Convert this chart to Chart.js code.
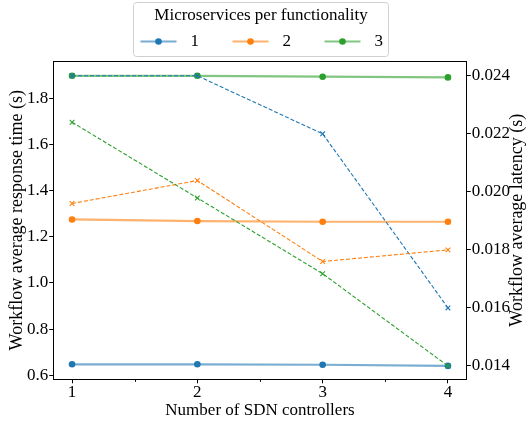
<!DOCTYPE html>
<html><head><meta charset="utf-8">
<script src="https://cdn.jsdelivr.net/npm/chart.js@4"></script>
<style>html,body{margin:0;padding:0;background:#fff;}</style>
</head><body>
<canvas id="c" width="526" height="423"></canvas>
<script>
const controllers = [1, 2, 3, 4];
const seriesNames = ['1', '2', '3'];
const responseTime1 = [0.648, 0.648, 0.646, 0.641];
const responseTime2 = [1.275, 1.268, 1.265, 1.265];
const responseTime3 = [1.897, 1.897, 1.893, 1.890];
const latency1 = [0.0240, 0.0240, 0.0220, 0.0160];
const latency2 = [0.01960, 0.02039, 0.01760, 0.01800];
const latency3 = [0.02240, 0.01979, 0.01718, 0.01400];
const leftTicks = [0.6, 0.8, 1.0, 1.2, 1.4, 1.6, 1.8];
const rightTicks = [0.014, 0.016, 0.018, 0.020, 0.022, 0.024];
const minorXTicks = [1.5, 2.5, 3.5];

const colors = ['#1f77b4', '#ff7f0e', '#2ca02c'];
const fadedColors = ['rgba(31,119,180,0.6)', 'rgba(255,127,14,0.6)', 'rgba(44,160,44,0.6)'];
const FONT = "'Liberation Serif', 'Times New Roman', serif";
const FS = 17;
const YFS = 18;

const responseSeries = [responseTime1, responseTime2, responseTime3];
const latencySeries = [latency1, latency2, latency3];
const toPts = arr => arr.map((v, i) => ({x: controllers[i], y: v}));

const datasets = [];
responseSeries.forEach((s, i) => {
  datasets.push({
    label: seriesNames[i], data: toPts(s), yAxisID: 'y', order: 5 - i,
    borderColor: fadedColors[i], borderWidth: 2.2,
    pointStyle: 'circle', pointRadius: 3.3, pointBackgroundColor: colors[i],
    pointBorderWidth: 0, pointHoverRadius: 3.3
  });
});
latencySeries.forEach((s, i) => {
  datasets.push({
    label: seriesNames[i] + ' latency', data: toPts(s), yAxisID: 'y2', order: 2 - i,
    borderColor: colors[i], borderWidth: 1.1, borderDash: [4, 2],
    pointStyle: 'crossRot', pointRadius: 3.3, pointBorderColor: colors[i],
    pointBorderWidth: 1.1, pointHoverRadius: 3.3
  });
});

const frameAndExtras = {
  id: 'frameAndExtras',
  afterDraw(chart) {
    const ctx = chart.ctx, a = chart.chartArea;
    ctx.save();
    ctx.strokeStyle = '#000'; ctx.lineWidth = 1;
    ctx.beginPath(); ctx.moveTo(a.left, a.top + 0.5); ctx.lineTo(a.right, a.top + 0.5); ctx.stroke();
    const xs = chart.scales.x;
    minorXTicks.forEach(v => {
      const px = Math.round(xs.getPixelForValue(v)) + 0.5;
      ctx.beginPath(); ctx.moveTo(px, a.bottom); ctx.lineTo(px, a.bottom + 2.5); ctx.stroke();
    });
    ctx.fillStyle = '#000'; ctx.font = YFS + 'px ' + FONT;
    ctx.textAlign = 'center'; ctx.textBaseline = 'middle';
    ctx.translate(517, (a.top + a.bottom) / 2);
    ctx.rotate(-Math.PI / 2);
    ctx.fillText('Workflow average latency (s)', 0, 0);
    ctx.restore();

    ctx.save();
    const boxW = 255, boxH = 54;
    const left = Math.round((a.left + a.right) / 2 - boxW / 2) + 0.5, top = 2.5;
    ctx.fillStyle = 'rgba(255,255,255,0.8)';
    ctx.strokeStyle = '#d0d0d0'; ctx.lineWidth = 1;
    ctx.beginPath();
    ctx.roundRect(left, top, boxW, boxH, 3);
    ctx.fill(); ctx.stroke();
    ctx.fillStyle = '#000'; ctx.font = FS + 'px ' + FONT;
    ctx.textAlign = 'center'; ctx.textBaseline = 'middle';
    ctx.fillText('Microservices per functionality', left + boxW / 2, top + 13);
    seriesNames.forEach((name, i) => {
      const hx = left + 7 + i * 92, hy = top + 39;
      ctx.strokeStyle = fadedColors[i]; ctx.lineWidth = 2.2;
      ctx.beginPath(); ctx.moveTo(hx, hy); ctx.lineTo(hx + 36, hy); ctx.stroke();
      ctx.fillStyle = colors[i];
      ctx.beginPath(); ctx.arc(hx + 18, hy, 3.3, 0, Math.PI * 2); ctx.fill();
      ctx.fillStyle = '#000'; ctx.textAlign = 'left';
      ctx.fillText(name, hx + 50, hy);
    });
    ctx.restore();
  }
};

const tickFont = {family: FONT, size: FS, lineHeight: 1.1};
const titleFont = {family: FONT, size: FS, lineHeight: 1.0};
const yTitleFont = {family: FONT, size: YFS, lineHeight: 1.0};
const gridOpts = {drawOnChartArea: false, drawTicks: true, tickLength: 4, tickColor: '#000', tickWidth: 1};
const borderOpts = {display: true, color: '#000', width: 1};

new Chart(document.getElementById('c'), {
  type: 'line',
  data: {datasets},
  options: {
    responsive: false, animation: false, devicePixelRatio: 1,
    layout: {padding: {top: 61, right: 15, bottom: 4, left: 5}},
    plugins: {legend: {display: false}, tooltip: {enabled: false}},
    scales: {
      x: {
        type: 'linear', position: 'bottom', min: 0.85, max: 4.15,
        afterBuildTicks: s => { s.ticks = controllers.map(v => ({value: v})); },
        ticks: {font: tickFont, color: '#000', padding: 0, callback: v => String(v)},
        grid: gridOpts, border: borderOpts,
        title: {display: true, text: 'Number of SDN controllers', font: titleFont, color: '#000', padding: {top: 0, bottom: 0}}
      },
      y: {
        type: 'linear', position: 'left', min: 0.583, max: 1.961,
        afterBuildTicks: s => { s.ticks = leftTicks.map(v => ({value: v})); },
        ticks: {font: tickFont, color: '#000', padding: 1, callback: v => v.toFixed(1)},
        grid: gridOpts, border: borderOpts,
        title: {display: true, text: 'Workflow average response time (s)', font: yTitleFont, color: '#000', padding: {top: 3, bottom: 0}}
      },
      y2: {
        type: 'linear', position: 'right', min: 0.01354, max: 0.02451,
        afterBuildTicks: s => { s.ticks = rightTicks.map(v => ({value: v})); },
        ticks: {font: tickFont, color: '#000', padding: 1, callback: v => v.toFixed(3)},
        grid: gridOpts, border: borderOpts
      }
    }
  },
  plugins: [frameAndExtras]
});
</script>
</body></html>
